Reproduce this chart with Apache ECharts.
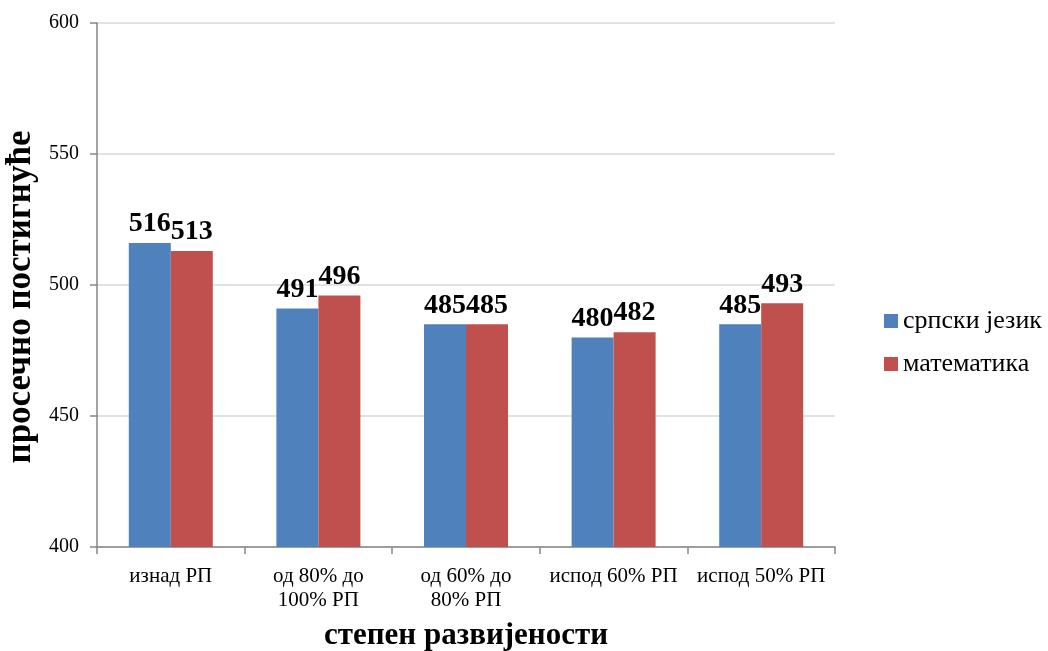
<!DOCTYPE html>
<html>
<head>
<meta charset="utf-8">
<script src="https://cdn.jsdelivr.net/npm/echarts@6/dist/echarts.min.js"></script>
<style>
html,body{margin:0;padding:0;background:#fff;}
#chart{width:1048px;height:651px;}
</style>
</head>
<body>
<div id="chart"></div>
<script>
const categories = ['изнад РП', 'од 80% до\n100% РП', 'од 60% до\n80% РП', 'испод 60% РП', 'испод 50% РП'];
const serbian = [516, 491, 485, 480, 485];
const math = [513, 496, 485, 482, 493];
const seriesNames = ['српски језик', 'математика'];
const yTicks = { min: 400, max: 600, interval: 50 };
const xTitle = 'степен развијености';
const yTitle = 'просечно постигнуће';

const FONT = "'Liberation Serif', 'Times New Roman', serif";
const chart = echarts.init(document.getElementById('chart'));
const labelStyle = {
  show: true, position: 'top', distance: 5,
  fontFamily: FONT, fontSize: 28, fontWeight: 'bold', color: '#000'
};
chart.setOption({
  animation: false,
  textStyle: { fontFamily: FONT },
  grid: { left: 97, right: 213, top: 23, bottom: 104, containLabel: false, outerBoundsMode: 'none' },
  legend: {
    orient: 'vertical', left: 884, top: 308, padding: 0,
    icon: 'rect', itemWidth: 14, itemHeight: 14, itemGap: 17,
    textStyle: { fontFamily: FONT, fontSize: 26, color: '#000' },
    data: seriesNames
  },
  xAxis: {
    type: 'category', data: categories,
    name: xTitle, nameLocation: 'middle', nameGap: 73,
    nameTextStyle: { fontFamily: FONT, fontSize: 31, fontWeight: 'bold', color: '#000' },
    axisLine: { lineStyle: { color: '#868686', width: 1.5 } },
    axisTick: { show: true, length: 7, lineStyle: { color: '#868686', width: 1.5 } },
    axisLabel: { fontFamily: FONT, fontSize: 21, color: '#000', margin: 17, lineHeight: 24, interval: 0 }
  },
  yAxis: {
    type: 'value', min: yTicks.min, max: yTicks.max, interval: yTicks.interval,
    name: yTitle, nameLocation: 'middle', nameGap: 56,
    nameTextStyle: { fontFamily: FONT, fontSize: 35, fontWeight: 'bold', color: '#000', padding: [0, 24, 0, 0] },
    axisLine: { show: true, lineStyle: { color: '#868686', width: 1.5 } },
    axisTick: { show: true, length: 7, lineStyle: { color: '#868686', width: 1.5 } },
    axisLabel: { fontFamily: FONT, fontSize: 20, color: '#000', margin: 18 },
    splitLine: { lineStyle: { color: '#d9d9d9', width: 1.5 } }
  },
  series: [
    { name: seriesNames[0], type: 'bar', data: serbian, barWidth: 42, barGap: '0%',
      itemStyle: { color: '#4F81BD' }, label: labelStyle },
    { name: seriesNames[1], type: 'bar', data: math, barWidth: 42, barGap: '0%',
      itemStyle: { color: '#C0504D' }, label: labelStyle }
  ]
});
</script>
</body>
</html>
